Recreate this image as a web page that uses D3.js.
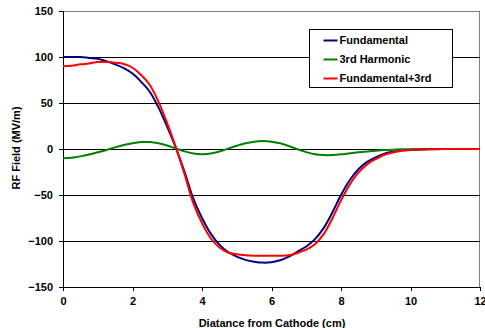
<!DOCTYPE html>
<html>
<head>
<meta charset="utf-8">
<script src="https://cdn.jsdelivr.net/npm/d3@7"></script>
<style>
  body { margin: 0; background: #fff; }
  text { font-family: Arial, "Liberation Sans", sans-serif; font-weight: bold; }
</style>
</head>
<body>
<div id="chart"></div>
<script>
// distance from cathode (cm)
const xs = [0, 0.25, 0.5, 0.75, 1, 1.25, 1.5, 1.75, 2, 2.25, 2.5, 2.75, 3, 3.25, 3.5, 3.75,
  4, 4.25, 4.5, 4.75, 5, 5.25, 5.5, 5.75, 6, 6.25, 6.5, 6.75, 7, 7.25, 7.5, 7.75,
  8, 8.25, 8.5, 8.75, 9, 9.25, 9.5, 9.75, 10, 10.5, 11, 11.5, 12];

const fundamental = [100, 100, 100, 99, 98, 95.5, 92, 88, 82, 73, 62, 45, 24, 1, -25, -54,
  -75, -92, -104, -112, -117, -120.5, -122.5, -123.5, -123, -121, -117, -111.5, -106, -98, -86, -69,
  -50, -34, -22, -14, -9, -5, -3, -1.5, -0.8, -0.2, 0, 0, 0];

const harmonic3 = [-10, -9.5, -8, -6, -3.5, -1, 1.8, 4.3, 6.3, 7.5, 7.6, 6.2, 3.8, 0.5, -2.6, -4.8,
  -5.6, -5, -2.8, 0.4, 3.6, 6.3, 8, 8.6, 8, 6.2, 3.2, -0.3, -3.4, -5.6, -6.6, -6.5,
  -5.8, -4.7, -3.6, -2.7, -1.9, -1.2, -0.7, -0.4, -0.2, 0, 0, 0, 0];

const combined = [90, 90.5, 92, 93, 94.5, 94.5, 93.8, 92.3, 88.3, 80.5, 69.6, 51.2, 27.8, 1.5, -27.6, -58.8,
  -80.6, -97, -107, -112.5, -114.5, -115.5, -116, -116, -116, -116, -115.5, -113, -109.4, -103.6, -92.6, -75.5,
  -55.8, -38.7, -25.6, -16.7, -10.9, -6.2, -3.7, -1.9, -1, -0.2, 0, 0, 0];

const seriesNames = ["Fundamental", "3rd Harmonic", "Fundamental+3rd"];
const seriesColors = ["#000080", "#008000", "#ff0000"];
const xTicks = [0, 2, 4, 6, 8, 10, 12];
const yTicks = [-150, -100, -50, 0, 50, 100, 150];

const width = 485, height = 328;
const margin = { top: 11, right: 5, bottom: 41, left: 63 };
const innerW = width - margin.left - margin.right;
const innerH = height - margin.top - margin.bottom;

const svg = d3.select("#chart")
  .append("svg")
  .attr("width", width)
  .attr("height", height);

const g = svg.append("g")
  .attr("transform", `translate(${margin.left},${margin.top})`);

const x = d3.scaleLinear().domain([0, 12]).range([0, innerW]);
const y = d3.scaleLinear().domain([-150, 150]).range([innerH, 0]);

// plot frame (gray top/right)
g.append("rect")
  .attr("x", 0.5).attr("y", 0.5)
  .attr("width", innerW - 1).attr("height", innerH)
  .attr("fill", "none")
  .attr("stroke", "#808080")
  .attr("shape-rendering", "crispEdges");

// gridlines
g.append("g")
  .selectAll("line")
  .data(yTicks.filter(d => d !== -150 && d !== 150))
  .join("line")
  .attr("x1", 0).attr("x2", innerW)
  .attr("y1", d => Math.round(y(d)) + 0.5)
  .attr("y2", d => Math.round(y(d)) + 0.5)
  .attr("stroke", "#000")
  .attr("stroke-width", 1)
  .attr("shape-rendering", "crispEdges");

// axes
const xAxis = g.append("g")
  .attr("transform", `translate(0,${innerH})`)
  .call(d3.axisBottom(x).tickValues(xTicks).tickSize(4).tickPadding(6).tickFormat(d3.format("d")));
const yAxis = g.append("g")
  .call(d3.axisLeft(y).tickValues(yTicks).tickSize(4).tickPadding(6).tickFormat(d3.format("d")));

[xAxis, yAxis].forEach(a => {
  a.selectAll(".domain").attr("stroke", "#000").attr("shape-rendering", "crispEdges");
  a.selectAll(".tick line").attr("stroke", "#000").attr("shape-rendering", "crispEdges");
  a.selectAll("text").style("font-size", "11px").attr("fill", "#000");
});
yAxis.select(".domain").attr("d", `M-4,0.5H0.5V${innerH}H-4`);
yAxis.selectAll(".tick text").attr("dy", "0.35em");

// axis titles
svg.append("text")
  .attr("x", 272)
  .attr("y", 327)
  .attr("text-anchor", "middle")
  .style("font-size", "11px")
  .text("Diatance from Cathode (cm)");

svg.append("text")
  .attr("transform", `translate(20,148) rotate(-90)`)
  .attr("text-anchor", "middle")
  .style("font-size", "11px")
  .text("RF Field (MV/m)");

// curves
const seriesData = [fundamental, harmonic3, combined];
const line = d3.line()
  .x(d => x(d[0]))
  .y(d => y(d[1]))
  .curve(d3.curveCatmullRom);

seriesData.forEach((vals, i) => {
  g.append("path")
    .datum(xs.map((xv, j) => [xv, vals[j]]))
    .attr("fill", "none")
    .attr("stroke", seriesColors[i])
    .attr("stroke-width", 2)
    .attr("d", line);
});

// legend
const legend = svg.append("g").attr("transform", "translate(309.5,29.5)");
legend.append("rect")
  .attr("width", 143).attr("height", 58)
  .attr("fill", "#fff")
  .attr("stroke", "#000");

seriesNames.forEach((name, i) => {
  const ly = 11 + i * 19;
  legend.append("line")
    .attr("x1", 14).attr("x2", 28)
    .attr("y1", ly).attr("y2", ly)
    .attr("stroke", seriesColors[i])
    .attr("stroke-width", 2);
  legend.append("text")
    .attr("x", 30).attr("y", ly)
    .attr("dy", "0.35em")
    .style("font-size", "11px")
    .text(name);
});
</script>
</body>
</html>
